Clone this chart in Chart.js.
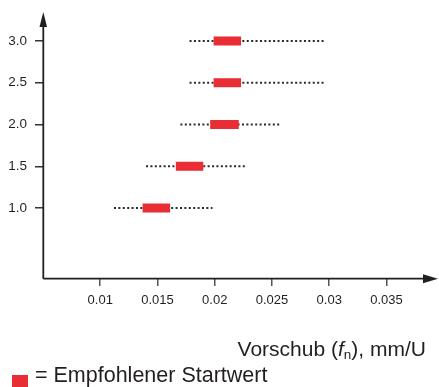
<!DOCTYPE html>
<html lang="de">
<head>
<meta charset="utf-8">
<title>Vorschub</title>
<script src="https://cdn.jsdelivr.net/npm/chart.js@4/dist/chart.umd.min.js"></script>
<style>
  html, body { margin: 0; padding: 0; background: #fff; overflow: hidden; }
  #wrap { position: relative; width: 439px; height: 387px; }
  #chart { position: absolute; left: 0; top: 0; }
  .txt { position: absolute; font-family: "Liberation Sans", Arial, Helvetica, sans-serif; color: #231f20; white-space: nowrap; }
  #xtitle { right: 13px; top: 338px; font-size: 21px; line-height: 21px; }
  #xtitle sub { font-size: 13.5px; line-height: 0; vertical-align: -3px; }
  #legend { left: 35px; top: 365px; font-size: 21.5px; line-height: 21.5px; }
  #swatch { position: absolute; left: 12px; top: 375px; width: 16px; height: 16px; background: #e92d35; }
</style>
</head>
<body>
<div id="wrap">
  <canvas id="chart" width="439" height="387"></canvas>
  <div id="xtitle" class="txt">Vorschub (<i>f</i><sub>n</sub>), mm/U</div>
  <div id="swatch"></div>
  <div id="legend" class="txt">= Empfohlener Startwert</div>
</div>
<script>
// Feed ranges (mm/U) per row; the red segment marks the recommended start value.
const rows      = [1.0, 1.5, 2.0, 2.5, 3.0];
const rangeMin  = [0.0112, 0.0140, 0.0170, 0.0178, 0.0178];
const rangeMax  = [0.0198, 0.0227, 0.0257, 0.0296, 0.0296];
const startMin  = [0.0137, 0.0166, 0.0196, 0.0199, 0.0199];
const startMax  = [0.0161, 0.0190, 0.0221, 0.0223, 0.0223];
const xTicks    = [0.01, 0.015, 0.02, 0.025, 0.03, 0.035];
const yTicks    = [1.0, 1.5, 2.0, 2.5, 3.0];

const INK = '#231f20';
const RED = '#e92d35';

const datasets = [];
rows.forEach((r, i) => {
  datasets.push({
    label: 'Bereich ' + r.toFixed(1),
    data: [{ x: rangeMin[i], y: r }, { x: rangeMax[i], y: r }],
    showLine: true,
    borderColor: '#2a2a2a',
    borderWidth: 2,
    borderDash: [2, 2.4],
    borderCapStyle: 'butt',
    pointRadius: 0,
    order: 2
  });
});
rows.forEach((r, i) => {
  datasets.push({
    label: 'Startwert ' + r.toFixed(1),
    data: [{ x: startMin[i], y: r }, { x: startMax[i], y: r }],
    showLine: true,
    borderColor: RED,
    borderWidth: 9,
    borderCapStyle: 'butt',
    pointRadius: 0,
    order: 1
  });
});

// Axis lines with arrowheads
const arrowAxes = {
  id: 'arrowAxes',
  afterDatasetsDraw(chart) {
    const { ctx, chartArea: a } = chart;
    const x0 = a.left + 0.3, y0 = a.bottom - 0.3;
    ctx.save();
    ctx.strokeStyle = INK;
    ctx.fillStyle = INK;
    ctx.lineWidth = 1.8;
    ctx.beginPath();
    ctx.moveTo(x0, y0);
    ctx.lineTo(a.right - 12, y0);
    ctx.moveTo(x0, y0);
    ctx.lineTo(x0, a.top + 12);
    ctx.stroke();
    // x arrow
    ctx.beginPath();
    ctx.moveTo(a.right, y0);
    ctx.lineTo(a.right - 15, y0 - 4.5);
    ctx.lineTo(a.right - 15, y0 + 4.5);
    ctx.closePath();
    ctx.fill();
    // y arrow
    ctx.beginPath();
    ctx.moveTo(x0, a.top);
    ctx.lineTo(x0 - 3.8, a.top + 15);
    ctx.lineTo(x0 + 3.8, a.top + 15);
    ctx.closePath();
    ctx.fill();
    ctx.restore();
  }
};

new Chart(document.getElementById('chart'), {
  type: 'scatter',
  data: { datasets },
  plugins: [arrowAxes],
  options: {
    responsive: false,
    animation: false,
    devicePixelRatio: 1,
    layout: { autoPadding: false, padding: { top: 12, right: 1, bottom: 0, left: 0 } },
    plugins: { legend: { display: false }, tooltip: { enabled: false } },
    scales: {
      x: {
        type: 'linear',
        min: 0.005,
        max: 0.0395,
        afterBuildTicks: (s) => { s.ticks = xTicks.map(v => ({ value: v })); },
        afterFit: (s) => { s.height = 108; s.paddingLeft = 0; s.paddingRight = 0; },
        border: { display: false },
        grid: { drawOnChartArea: false, drawTicks: true, tickLength: 7, color: '#555', lineWidth: 1.5 },
        ticks: {
          padding: 7,
          maxRotation: 0,
          autoSkip: false,
          color: INK,
          font: { family: '"Liberation Sans", Arial, sans-serif', size: 13 },
          callback: (v) => String(v)
        }
      },
      y: {
        type: 'linear',
        min: 0.15,
        max: 3.347,
        afterBuildTicks: (s) => { s.ticks = yTicks.map(v => ({ value: v })); },
        afterFit: (s) => { s.width = 43; s.paddingTop = 0; s.paddingBottom = 0; },
        border: { display: false },
        grid: { drawOnChartArea: false, drawTicks: true, tickLength: 8, color: '#333', lineWidth: 1.5 },
        ticks: {
          padding: 8,
          autoSkip: false,
          color: INK,
          font: { family: '"Liberation Sans", Arial, sans-serif', size: 13.5 },
          callback: (v) => Number(v).toFixed(1)
        }
      }
    }
  }
});
</script>
</body>
</html>
